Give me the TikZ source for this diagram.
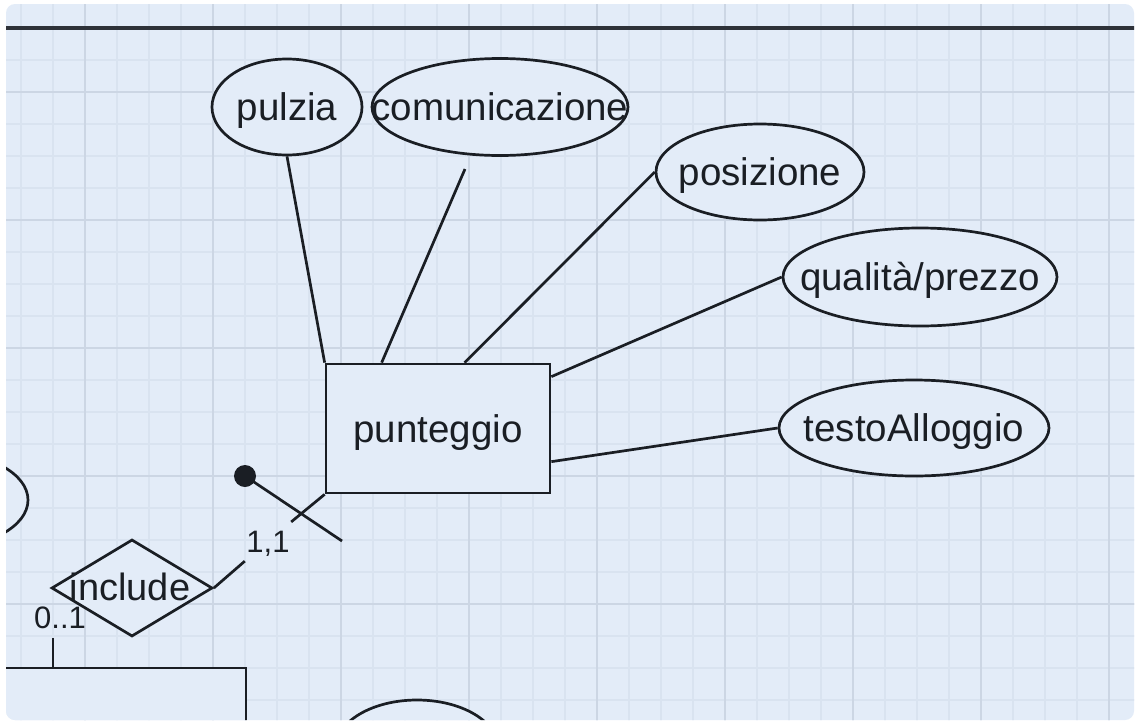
\documentclass[tikz,border=0pt]{standalone}
\usepackage{fontspec}
\setmainfont{Liberation Sans}
\usetikzlibrary{shapes.geometric,calc}
\definecolor{bg}{RGB}{227,236,248}
\definecolor{gridminor}{RGB}{217,227,240}
\definecolor{gridmajor}{RGB}{204,214,228}
\definecolor{ink}{RGB}{26,30,36}
\newcommand{\lbl}[2][-13.5pt]{\makebox[0pt]{\raisebox{#1}[0pt][0pt]{#2}}}
\begin{document}
\begin{tikzpicture}[x=1pt,y=-1pt,
  conn/.style={draw=ink, line width=2.7pt},
  attr/.style={ellipse, draw=ink, line width=2.7pt, fill=bg, inner sep=0pt,
    text=ink, font=\fontsize{38.5}{40}\selectfont},
  ent/.style={rectangle, draw=ink, line width=2.7pt, fill=bg, inner sep=0pt,
    text=ink, font=\fontsize{38.5}{40}\selectfont},
  rel/.style={diamond, draw=ink, line width=2.7pt, fill=bg, inner sep=0pt,
    text=ink, font=\fontsize{38}{40}\selectfont},
  card/.style={inner sep=0pt, text=ink, font=\fontsize{31}{33}\selectfont},
]
\useasboundingbox (0,0) rectangle (1140,726);
\fill[white] (0,0) rectangle (1140,726);
\begin{scope}
\clip[rounded corners=9pt] (6,4) rectangle (1134,720);
\fill[bg] (0,0) rectangle (1140,726);
% grid
\foreach \i in {0,...,35} {
  \draw[gridminor, line width=1.3pt] ({21+32*\i},0) -- ({21+32*\i},726);
}
\foreach \i in {0,...,22} {
  \draw[gridminor, line width=1.3pt] (0,{28+32*\i}) -- (1140,{28+32*\i});
}
\foreach \i in {0,...,8} {
  \draw[gridmajor, line width=1.5pt] ({85+128*\i},0) -- ({85+128*\i},726);
}
\foreach \i in {0,...,5} {
  \draw[gridmajor, line width=1.5pt] (0,{92+128*\i}) -- (1140,{92+128*\i});
}
% top rule
\draw[ink!90!bg, line width=3.2pt] (0,28) -- (1140,28);

% attributes
\node[attr, minimum width=150pt, minimum height=96pt] (pulzia) at (287,107) {\lbl{pulzia}};
\node[attr, minimum width=256pt, minimum height=97pt] (comunicazione) at (500,107) {\lbl{comunicazione}};
\node[attr, minimum width=208pt, minimum height=96pt] (posizione) at (760,172) {\lbl{posizione}};
\node[attr, minimum width=274pt, minimum height=98pt] (qualita) at (920,277) {\lbl{qualità/prezzo}};
\node[attr, minimum width=270pt, minimum height=96pt] (testo) at (914,428) {\lbl{testoAlloggio}};
\node[attr, minimum width=176pt, minimum height=96pt] (leftattr) at (-60,500) {};
\node[attr, minimum width=162pt, minimum height=96pt] (botattr) at (417,748) {};

% entities
\node[ent, minimum width=224pt, minimum height=129pt] (punteggio) at (438,428.5) {\lbl{punteggio}};
\node[ent, minimum width=346pt, minimum height=132pt] (ent2) at (73,734) {};

% relationship
\node[rel, minimum width=161pt, minimum height=97pt] (include) at (132,588) {\lbl[-12pt]{\hspace*{-4pt}include}};

% attribute links
\coordinate (comfoot) at (465,169);
\draw[conn] (pulzia.south) -- (punteggio.north west);
\draw[conn] (comfoot) -- ($(punteggio.north west)+(57,0)$);
\draw[conn] (posizione.west) -- ($(punteggio.north west)+(140,0)$);
\draw[conn] (qualita.west) -- ($(punteggio.north east)+(0,14)$);
\draw[conn] (testo.west) -- ($(punteggio.north east)+(0,99)$);

% identifier marker
\node[circle, fill=ink, inner sep=0pt, minimum size=22pt] (dot) at (245,476) {};
\coordinate (dotend) at (342,541);
\draw[conn] (dot.center) -- (dotend);

% participation punteggio - include
\node[card, minimum width=46pt, minimum height=40pt] (l11) at (268,541) {\lbl[-11pt]{1,1}};
\draw[conn] (punteggio.south west) -- (l11);
\draw[conn] (l11) -- (include.east);

% participation include - lower entity
\node[card, minimum width=56pt, minimum height=40pt] (l01) at (60,618) {0..1};
\coordinate (e2top) at (53,668);
\draw[conn] (e2top) -- (e2top |- l01.south);
\end{scope}
\end{tikzpicture}
\end{document}
